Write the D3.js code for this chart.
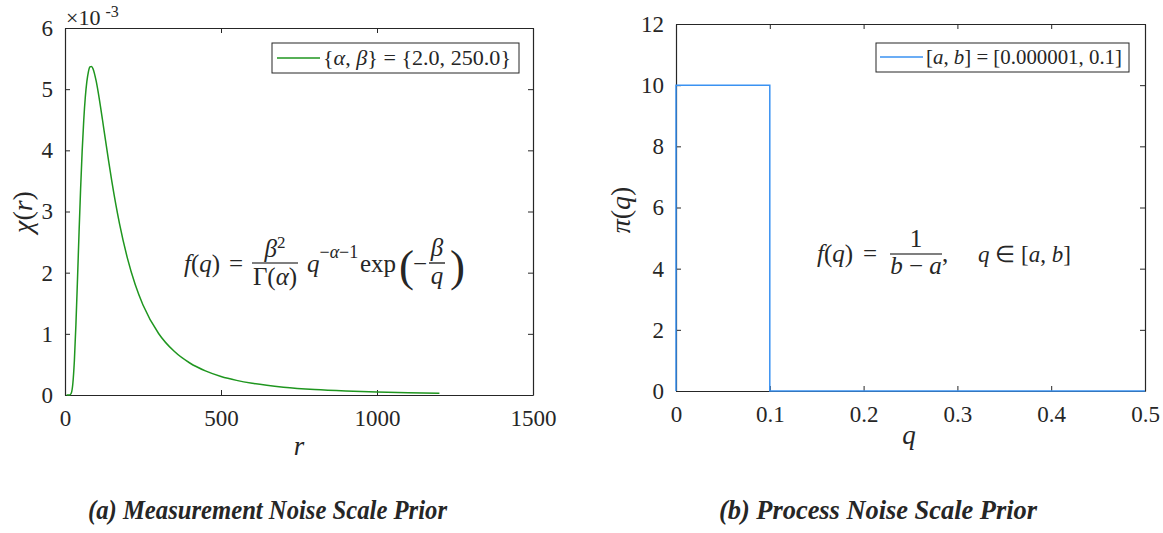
<!DOCTYPE html>
<html>
<head>
<meta charset="utf-8">
<script src="https://cdn.jsdelivr.net/npm/d3@7"></script>
<style>
  body { margin: 0; background: #fff; }
  svg text { font-family: 'Liberation Serif', serif; fill: #262626; }
  .it { font-style: italic; }
</style>
</head>
<body>
<div id="vis"></div>
<script>
// left panel: inverse-gamma prior (in units of 1e-3)
const rVals   = [5, 10, 15, 20, 25, 30, 35, 40, 45, 50, 55, 60, 65, 70, 75, 80, 85, 90, 100, 110, 120, 130, 140, 150, 175, 200, 225, 250, 300, 350, 400, 450, 500, 550, 600, 700, 800, 900, 1000, 1100, 1200];
const chiVals = [0, 0, 0.001, 0.029, 0.18, 0.556, 1.152, 1.885, 2.651, 3.369, 3.987, 4.485, 4.863, 5.122, 5.284, 5.364, 5.372, 5.331, 5.130, 4.838, 4.504, 4.158, 3.820, 3.498, 2.795, 2.238, 1.806, 1.472, 1.006, 0.714, 0.523, 0.394, 0.303, 0.239, 0.191, 0.128, 0.089, 0.065, 0.049, 0.037, 0.029];
const leftXTicks = [0, 500, 1000, 1500];
const leftYTicks = [0, 1, 2, 3, 4, 5, 6];

// right panel: uniform prior
const qVals  = [0, 0.000001, 0.1, 0.1, 0.5];
const piVals = [0, 10, 10, 0, 0];
const rightXTicks = [0, 0.1, 0.2, 0.3, 0.4, 0.5];
const rightYTicks = [0, 2, 4, 6, 8, 10, 12];

const W = 1163, H = 533;
const svg = d3.select("#vis").append("svg")
    .attr("width", W)
    .attr("height", H);

const axisColor = "#262626";
const green = "#1f961f", blue = "#3a92f2";

function drawAxes(x, y, xt, yt, fmtX) {
  const g = svg.append("g");
  const [x0, x1] = x.range();
  const [y0, y1] = y.range();
  g.append("g").attr("transform", `translate(0,${y0})`)
    .call(d3.axisBottom(x).tickValues(xt).tickFormat(fmtX).tickSizeInner(-5).tickSizeOuter(0).tickPadding(15));
  g.append("g").attr("transform", `translate(0,${y1})`)
    .call(d3.axisTop(x).tickValues(xt).tickFormat("").tickSizeInner(-5).tickSizeOuter(0));
  g.append("g").attr("transform", `translate(${x0},0)`)
    .call(d3.axisLeft(y).tickValues(yt).tickFormat(d3.format("d")).tickSizeInner(-5).tickSizeOuter(0).tickPadding(12));
  g.append("g").attr("transform", `translate(${x1},0)`)
    .call(d3.axisRight(y).tickValues(yt).tickFormat("").tickSizeInner(-5).tickSizeOuter(0));
  g.selectAll(".domain").attr("stroke", axisColor).attr("stroke-width", 1.2);
  g.selectAll(".tick line").attr("stroke", axisColor);
  g.selectAll(".tick text").attr("font-size", 23).attr("fill", axisColor);
  return g;
}

// helper: text made of [string, italic?, extra attrs] pieces
function mathText(parent, x, y, size, parts, anchor, len) {
  const t = parent.append("text").attr("x", x).attr("y", y).attr("font-size", size)
      .attr("text-anchor", anchor || "start").attr("fill", "#000");
  if (len) t.attr("textLength", len).attr("lengthAdjust", "spacingAndGlyphs");
  parts.forEach(p => {
    const s = t.append("tspan").text(p[0]);
    if (p[1]) s.attr("class", "it");
    if (p[2]) Object.entries(p[2]).forEach(([k, v]) => s.attr(k, v));
  });
  return t;
}

// ---------- left ----------
const xL = d3.scaleLinear().domain([0, 1500]).range([65, 533]);
const yL = d3.scaleLinear().domain([0, 6]).range([395, 28]);

drawAxes(xL, yL, leftXTicks, leftYTicks, d3.format("d"));

const leftData = rVals.map((r, i) => ({ r: r, v: chiVals[i] }));
svg.append("path")
    .datum(leftData)
    .attr("fill", "none")
    .attr("stroke", green)
    .attr("stroke-width", 1.5)
    .attr("d", d3.line().x(d => xL(d.r)).y(d => yL(d.v)).curve(d3.curveMonotoneX));

// x10^-3
const mult = svg.append("text").attr("x", 66).attr("y", 25).attr("font-size", 22);
mult.append("tspan").text("×10");
mult.append("tspan").attr("dx", 5).attr("dy", -8).attr("font-size", 16).text("-3");

// axis titles
mathText(svg.append("g").attr("transform", "translate(32,212) rotate(-90)"), 0, 0, 28,
  [["χ", true], ["("], ["r", true], [")"]], "middle");
mathText(svg, 299, 455, 27, [["r", true]], "middle");

// legend left
svg.append("rect").attr("x", 272).attr("y", 43).attr("width", 247).attr("height", 30)
    .attr("fill", "#fff").attr("stroke", axisColor).attr("stroke-width", 1);
svg.append("line").attr("x1", 277).attr("x2", 320).attr("y1", 58).attr("y2", 58)
    .attr("stroke", green).attr("stroke-width", 1.5);
mathText(svg, 323, 65, 21, [["{"], ["α", true], [", "], ["β", true], ["} = {2.0, 250.0}"]], "start", 188);

// formula left
const fl = svg.append("g");
mathText(fl, 184, 272, 25, [["f", true], ["("], ["q", true], [")"]]);
mathText(fl, 236, 272, 25, [["="]], "middle");
fl.append("line").attr("x1", 252).attr("x2", 298).attr("y1", 263).attr("y2", 263)
    .attr("stroke", "#000").attr("stroke-width", 1.2);
mathText(fl, 275, 257, 25, [["β", true], ["2", false, { dy: -9, "font-size": 17 }]], "middle");
mathText(fl, 275, 285, 25, [["Γ("], ["α", true], [")"]], "middle");
mathText(fl, 307, 272, 25, [["q", true],
  ["−", false, { dy: -14, "font-size": 18 }], ["α", true, { "font-size": 18 }], ["−1", false, { "font-size": 18 }]]);
mathText(fl, 360, 272, 25, [["exp"]]);
mathText(fl, 399, 281, 45, [["("]]).attr("font-weight", 100);
mathText(fl, 413, 272, 25, [["−"]]);
fl.append("line").attr("x1", 429).attr("x2", 445).attr("y1", 263).attr("y2", 263)
    .attr("stroke", "#000").attr("stroke-width", 1.2);
mathText(fl, 437, 256, 25, [["β", true]], "middle");
mathText(fl, 437, 284, 25, [["q", true]], "middle");
mathText(fl, 450, 281, 45, [[")"]]).attr("font-weight", 100);

// ---------- right ----------
const xR = d3.scaleLinear().domain([0, 0.5]).range([676, 1145]);
const yR = d3.scaleLinear().domain([0, 12]).range([391, 24]);

drawAxes(xR, yR, rightXTicks, rightYTicks, d => d === 0 ? "0" : d3.format(".1f")(d));

const rightData = qVals.map((q, i) => ({ q: q, v: piVals[i] }));
svg.append("path")
    .datum(rightData)
    .attr("fill", "none")
    .attr("stroke", blue)
    .attr("stroke-width", 1.5)
    .attr("d", d3.line().x(d => xR(d.q)).y(d => yR(d.v)));

mathText(svg.append("g").attr("transform", "translate(630,210) rotate(-90)"), 0, 0, 28,
  [["π", true], ["("], ["q", true], [")"]], "middle");
mathText(svg, 909, 444, 27, [["q", true]], "middle");

// legend right
svg.append("rect").attr("x", 876).attr("y", 43).attr("width", 253).attr("height", 29)
    .attr("fill", "#fff").attr("stroke", axisColor).attr("stroke-width", 1);
svg.append("line").attr("x1", 880).attr("x2", 923).attr("y1", 57).attr("y2", 57)
    .attr("stroke", blue).attr("stroke-width", 1.5);
mathText(svg, 926, 64, 21, [["["], ["a", true], [", "], ["b", true], ["] = [0.000001, 0.1]"]], "start", 196);

// formula right
const fr = svg.append("g");
mathText(fr, 817, 262, 25, [["f", true], ["("], ["q", true], [")"]]);
mathText(fr, 870, 262, 25, [["="]], "middle");
fr.append("line").attr("x1", 890).attr("x2", 942).attr("y1", 254).attr("y2", 254)
    .attr("stroke", "#000").attr("stroke-width", 1.2);
mathText(fr, 916, 247, 25, [["1"]], "middle");
mathText(fr, 916, 274, 25, [["b", true], [" − "], ["a", true]], "middle");
mathText(fr, 942, 262, 25, [[","]]);
mathText(fr, 978, 262, 23, [["q", true], [" ∈ ["], ["a", true], [", "], ["b", true], ["]"]]);

// captions
svg.append("text").attr("x", 88).attr("y", 519).attr("font-size", 28)
    .attr("font-weight", "bold").attr("font-style", "italic").attr("fill", "#000")
    .attr("textLength", 359).attr("lengthAdjust", "spacingAndGlyphs")
    .text("(a) Measurement Noise Scale Prior");
svg.append("text").attr("x", 719).attr("y", 519).attr("font-size", 28)
    .attr("font-weight", "bold").attr("font-style", "italic").attr("fill", "#000")
    .attr("textLength", 318).attr("lengthAdjust", "spacingAndGlyphs")
    .text("(b) Process Noise Scale Prior");
</script>
</body>
</html>
